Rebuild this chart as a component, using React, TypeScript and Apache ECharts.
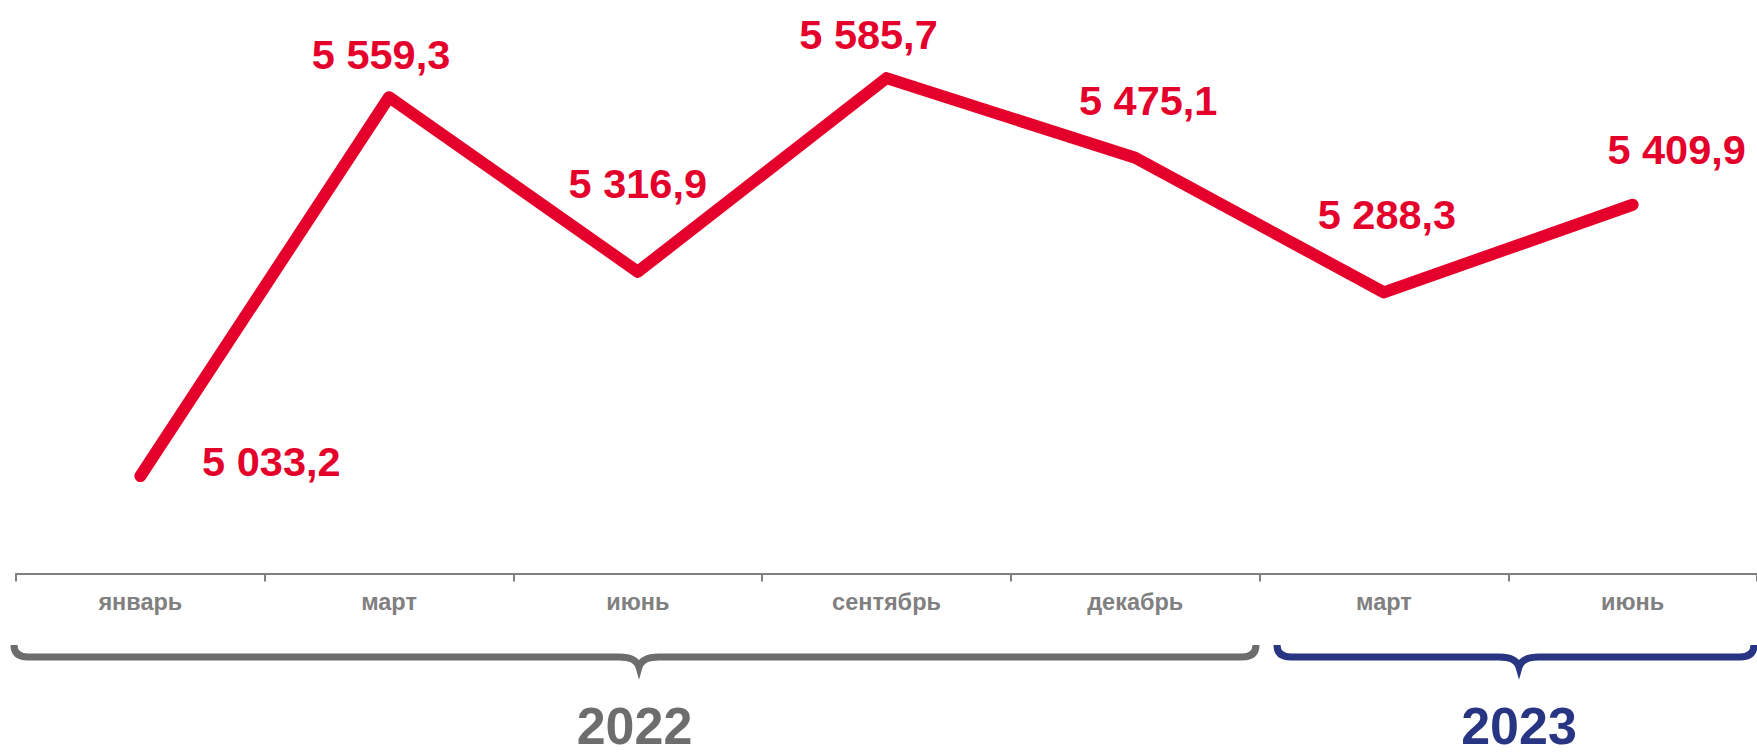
import React, { useEffect, useRef } from "react";
import * as echarts from "echarts";

const categories = ["январь", "март", "июнь", "сентябрь", "декабрь", "март", "июнь"];
const values = [5033.2, 5559.3, 5316.9, 5585.7, 5475.1, 5288.3, 5409.9];
const yearLabels = ["2022", "2023"];

// label offsets (style only) relative to each point
const labelOffsets: [number, number][] = [
  [131, -15],
  [-8, -43],
  [0, -88],
  [-18, -44],
  [13, -57],
  [3, -78],
  [44, -55],
];

const RED = "#e4002b";
const GREY = "#6d6d6d";
const AXIS_GREY = "#808080";
const BLUE = "#283583";
const FONT = 'Arial, "Liberation Sans", sans-serif';

function fmt(v: number): string {
  const [i, d] = v.toFixed(1).split(".");
  const withSpaces = i.replace(/\B(?=(\d{3})+(?!\d))/g, " ");
  return withSpaces + "," + d;
}

function bracePath(x1: number, x2: number, tip: number, yTop: number, yLine: number, yTip: number): string {
  return [
    `M ${x1} ${yTop}`,
    `Q ${x1} ${yLine} ${x1 + 14} ${yLine}`,
    `L ${tip - 20} ${yLine}`,
    `C ${tip - 8} ${yLine} ${tip - 2} ${yLine + 3} ${tip} ${yTip}`,
    `C ${tip + 2} ${yLine + 3} ${tip + 8} ${yLine} ${tip + 20} ${yLine}`,
    `L ${x2 - 14} ${yLine}`,
    `Q ${x2} ${yLine} ${x2} ${yTop}`,
  ].join(" ");
}

let registered = false;
function registerBraces() {
  if (registered) return;
  registered = true;
  echarts.graphic.registerShape(
    "brace2022",
    echarts.graphic.extendPath(bracePath(14, 1256, 639, 645, 657, 667), {})
  );
  echarts.graphic.registerShape(
    "brace2023",
    echarts.graphic.extendPath(bracePath(1277, 1754, 1519, 645, 657, 667), {})
  );
}

export default function App() {
  const ref = useRef<HTMLDivElement>(null);

  useEffect(() => {
    if (!ref.current) return;
    registerBraces();
    const chart = echarts.init(ref.current, undefined, { renderer: "svg" });
    chart.setOption({
      animation: false,
      backgroundColor: "#ffffff",
      grid: { left: 16, right: -5.5, top: 3, bottom: 182.5, containLabel: false },
      xAxis: {
        type: "category",
        data: categories,
        boundaryGap: true,
        axisLine: { show: true, lineStyle: { color: AXIS_GREY, width: 2 } },
        axisTick: { show: true, length: 8, lineStyle: { color: AXIS_GREY, width: 2 } },
        axisLabel: {
          color: AXIS_GREY,
          fontSize: 23.5,
          fontWeight: "bold",
          fontFamily: FONT,
          margin: 16.5,
          interval: 0,
        },
        splitLine: { show: false },
      },
      yAxis: {
        type: "value",
        min: 4898,
        max: 5690,
        show: false,
        splitLine: { show: false },
      },
      series: [
        {
          type: "line",
          data: values.map((v, i) => ({
            value: v,
            label: { offset: labelOffsets[i] },
          })),
          symbol: "circle",
          symbolSize: 1,
          itemStyle: { color: RED },
          lineStyle: { color: RED, width: 12, cap: "round", join: "round" },
          label: {
            show: true,
            position: "inside",
            align: "center",
            verticalAlign: "middle",
            color: RED,
            fontSize: 41.5,
            fontWeight: "bold",
            fontFamily: FONT,
            formatter: (p: any) => fmt(p.value),
          },
          clip: false,
        },
      ],
      graphic: [
        {
          type: "brace2022",
          x: 0,
          y: 0,
          style: { stroke: GREY, lineWidth: 7, fill: "none", lineCap: "butt" },
        },
        {
          type: "brace2023",
          x: 0,
          y: 0,
          style: { stroke: BLUE, lineWidth: 7, fill: "none", lineCap: "butt" },
        },
        {
          type: "text",
          x: 634.5,
          y: 726,
          style: {
            text: yearLabels[0],
            fill: GREY,
            font: `bold 52px ${FONT}`,
            textAlign: "center",
            textVerticalAlign: "middle",
          },
        },
        {
          type: "text",
          x: 1519,
          y: 726,
          style: {
            text: yearLabels[1],
            fill: BLUE,
            font: `bold 52px ${FONT}`,
            textAlign: "center",
            textVerticalAlign: "middle",
          },
        },
      ],
    });
    return () => chart.dispose();
  }, []);

  return (
    <div
      ref={ref}
      style={{ position: "fixed", left: 0, top: 0, width: 1757, height: 756 }}
    />
  );
}
